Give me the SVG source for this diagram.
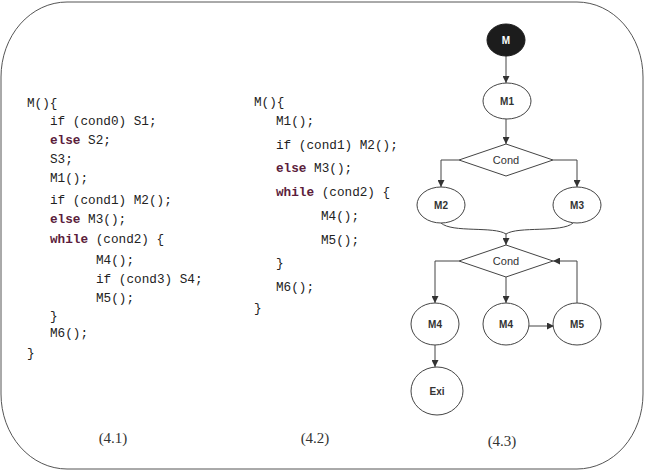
<svg xmlns="http://www.w3.org/2000/svg" width="645" height="472" viewBox="0 0 645 472">
<style>
.code{font-family:"Liberation Mono","Courier New",monospace;font-size:12.7px;fill:#222}
.kw{fill:#5b1d3c;font-weight:bold}
.node{fill:#fff;stroke:#444;stroke-width:1}
.lbl{font-family:"Liberation Sans",Arial,sans-serif;font-size:10px;font-weight:bold;fill:#333;text-anchor:middle}
.cond{font-family:"Liberation Sans",Arial,sans-serif;font-size:11px;fill:#333;text-anchor:middle}
.cap{font-family:"Liberation Serif","Times New Roman",serif;font-size:15px;fill:#333;text-anchor:middle}
.edge{fill:none;stroke:#444;stroke-width:1}
</style>
<defs>
<marker id="arr" viewBox="0 0 10 10" refX="10" refY="5" markerWidth="7" markerHeight="7" markerUnits="userSpaceOnUse" orient="auto">
<path d="M0,0 L10,5 L0,10 z" fill="#333"/>
</marker>
</defs>
<rect x="1" y="2" width="642" height="467" rx="66" ry="75" fill="#fff" stroke="#555" stroke-width="1"/>

<g id="code41" class="code">
<text x="27" y="107">M(){</text>
<text x="50" y="125">if (cond0) S1;</text>
<text x="50" y="144"><tspan class="kw">else</tspan> S2;</text>
<text x="50" y="163">S3;</text>
<text x="50" y="182">M1();</text>
<text x="50" y="204">if (cond1) M2();</text>
<text x="50" y="223"><tspan class="kw">else</tspan> M3();</text>
<text x="50" y="243"><tspan class="kw">while</tspan> (cond2) {</text>
<text x="96" y="264">M4();</text>
<text x="96" y="283">if (cond3) S4;</text>
<text x="96" y="302">M5();</text>
<text x="50" y="320">}</text>
<text x="50" y="337">M6();</text>
<text x="27" y="357">}</text>
</g>

<g id="code42" class="code">
<text x="254" y="106">M(){</text>
<text x="276" y="125">M1();</text>
<text x="276" y="149">if (cond1) M2();</text>
<text x="276" y="172"><tspan class="kw">else</tspan> M3();</text>
<text x="276" y="196"><tspan class="kw">while</tspan> (cond2) {</text>
<text x="321" y="220">M4();</text>
<text x="321" y="244">M5();</text>
<text x="276" y="267">}</text>
<text x="276" y="291">M6();</text>
<text x="254" y="312">}</text>
</g>

<g id="connectors">
<line class="edge" x1="506" y1="56" x2="506" y2="83" marker-end="url(#arr)"/>
<line class="edge" x1="506" y1="119" x2="506" y2="144" marker-end="url(#arr)"/>
<polyline class="edge" points="459,160 441,160 441,187" marker-end="url(#arr)"/>
<polyline class="edge" points="553,160 577,160 577,187" marker-end="url(#arr)"/>
<path class="edge" d="M441,223 C452,233 494,226 506,234"/>
<path class="edge" d="M573,223 C562,233 518,226 506,234"/>
<line class="edge" x1="506" y1="234" x2="506" y2="245" marker-end="url(#arr)"/>
<polyline class="edge" points="459,261 435,261 435,303" marker-end="url(#arr)"/>
<line class="edge" x1="506" y1="277" x2="506" y2="303" marker-end="url(#arr)"/>
<line class="edge" x1="529" y1="326" x2="554" y2="326" marker-end="url(#arr)"/>
<polyline class="edge" points="577,303 577,261 553,261" marker-end="url(#arr)"/>
<line class="edge" x1="435" y1="345" x2="435" y2="367" marker-end="url(#arr)"/>
</g>

<g id="nM"><ellipse cx="506" cy="40" rx="19" ry="16" fill="#1c1c1c" stroke="#1c1c1c"/><text class="lbl" x="506" y="44" style="fill:#fff">M</text></g>
<g id="nM1"><ellipse class="node" cx="507" cy="101" rx="24" ry="18"/><text class="lbl" x="507" y="105">M1</text></g>
<g id="nCond1"><polygon class="node" points="506,144 553,160 506,176 459,160"/><text class="cond" x="506" y="164">Cond</text></g>
<g id="nM2"><ellipse class="node" cx="441" cy="205" rx="24" ry="18"/><text class="lbl" x="441" y="209">M2</text></g>
<g id="nM3"><ellipse class="node" cx="577" cy="205" rx="24" ry="18"/><text class="lbl" x="577" y="209">M3</text></g>
<g id="nCond2"><polygon class="node" points="506,245 553,261 506,277 459,261"/><text class="cond" x="506" y="265">Cond</text></g>
<g id="nM4a"><ellipse class="node" cx="435" cy="324" rx="24" ry="21"/><text class="lbl" x="435" y="328">M4</text></g>
<g id="nM4b"><ellipse class="node" cx="506" cy="324" rx="23" ry="21"/><text class="lbl" x="506" y="328">M4</text></g>
<g id="nM5"><ellipse class="node" cx="577" cy="324" rx="24" ry="21"/><text class="lbl" x="577" y="328">M5</text></g>
<g id="nExi"><ellipse class="node" cx="437" cy="391" rx="26" ry="24"/><text class="lbl" x="437" y="395">Exi</text></g>

<g id="captions">
<text class="cap" x="113" y="443">(4.1)</text>
<text class="cap" x="315" y="443">(4.2)</text>
<text class="cap" x="502" y="446">(4.3)</text>
</g>
</svg>
